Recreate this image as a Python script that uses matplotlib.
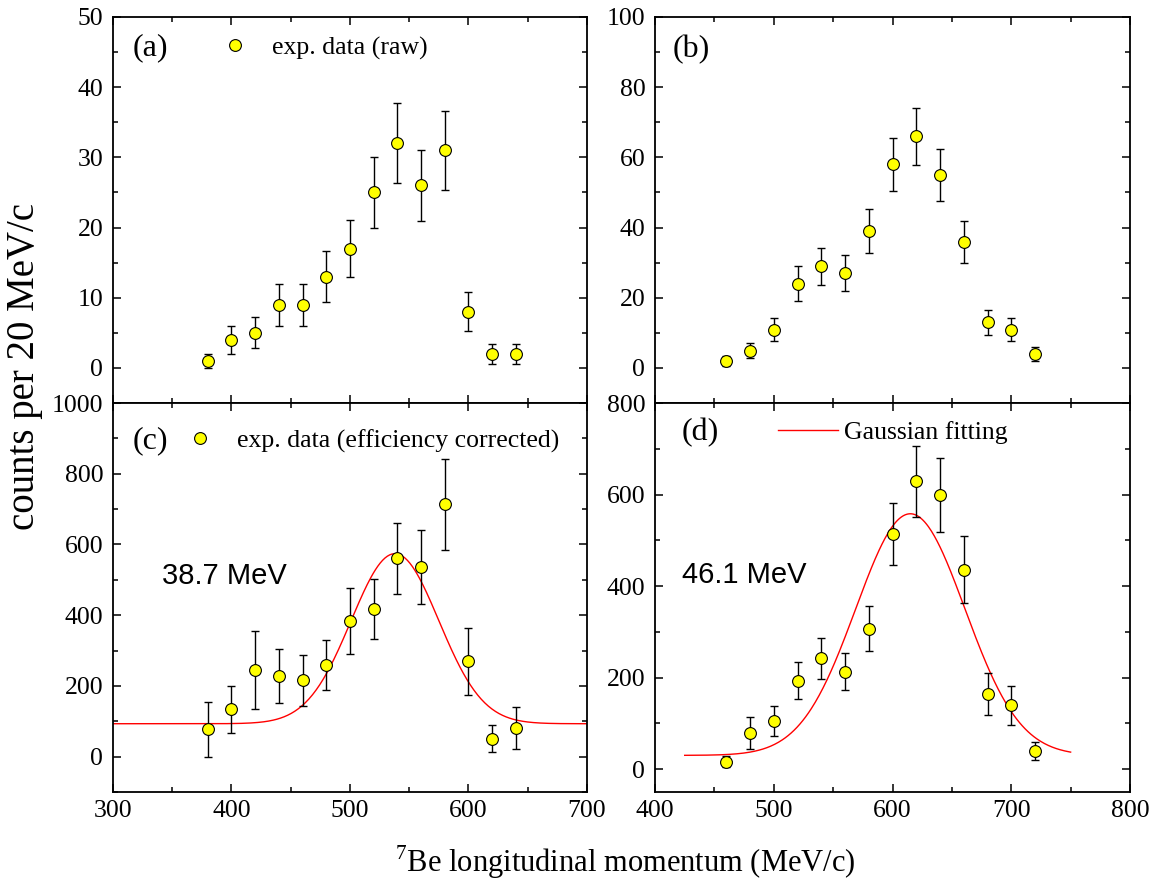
import numpy as np
import matplotlib
matplotlib.use("Agg")
import matplotlib.pyplot as plt
from matplotlib.ticker import MultipleLocator

plt.rcParams["font.family"] = ["Liberation Serif", "DejaVu Serif"]
plt.rcParams["mathtext.fontset"] = "custom"
plt.rcParams["mathtext.rm"] = "Liberation Serif"

# momentum bins (MeV/c)
p_a = [380, 400, 420, 440, 460, 480, 500, 520, 540, 560, 580, 600, 620, 640]
p_b = [460, 480, 500, 520, 540, 560, 580, 600, 620, 640, 660, 680, 700, 720]

# (a) raw counts, 38.7 MeV
raw_a = [1, 4, 5, 9, 9, 13, 17, 25, 32, 26, 31, 8, 2, 2]
raw_a_err = [1.0, 2.0, 2.2, 3.0, 3.0, 3.6, 4.1, 5.0, 5.7, 5.1, 5.6, 2.8, 1.4, 1.4]

# (b) raw counts, 46.1 MeV
raw_b = [2, 4.9, 10.9, 24, 28.9, 27, 39, 58, 66, 55, 36, 13, 10.9, 3.9]
raw_b_err = [1.4, 2.2, 3.3, 4.9, 5.4, 5.2, 6.2, 7.6, 8.1, 7.4, 6.0, 3.6, 3.3, 2.0]

# (c) efficiency corrected, 38.7 MeV
corr_c = [77, 134, 245, 228, 216, 259, 384, 418, 561, 536, 713, 269, 51, 81]
corr_c_err = [78, 67, 110, 77, 72, 72, 94, 84, 100, 105, 128, 96, 37, 59]

# (d) efficiency corrected, 46.1 MeV
corr_d = [16, 79, 105, 193, 242, 213, 307, 514, 629, 599, 436, 164, 139, 39]
corr_d_err = [12, 35, 32, 40, 45, 41, 49, 67, 77, 81, 73, 46, 42, 20]

# gaussian fit parameters: baseline, amplitude, centre, sigma, x range
fit_c = dict(base=93, amp=481, mu=538, sigma=37, x0=300, x1=700)
fit_d = dict(base=30, amp=528, mu=615, sigma=46, x0=425, x1=750)


def gauss_curve(pars):
    x = np.linspace(pars["x0"], pars["x1"], 400)
    y = pars["base"] + pars["amp"] * np.exp(-(x - pars["mu"]) ** 2 / (2 * pars["sigma"] ** 2))
    return x, y


def style(ax, xlim, ylim, ymaj, ymin, show_x):
    ax.set_xlim(*xlim)
    ax.set_ylim(*ylim)
    ax.xaxis.set_major_locator(MultipleLocator(100))
    ax.xaxis.set_minor_locator(MultipleLocator(50))
    ax.yaxis.set_major_locator(MultipleLocator(ymaj))
    ax.yaxis.set_minor_locator(MultipleLocator(ymin))
    ax.tick_params(which="both", direction="in", top=True, right=True,
                   width=1.1, labelsize=18.5)
    ax.tick_params(axis="x", pad=6)
    ax.tick_params(axis="y", pad=7)
    ax.tick_params(which="major", length=6)
    ax.tick_params(which="minor", length=3.5)
    if not show_x:
        ax.tick_params(labelbottom=False)
    for s in ax.spines.values():
        s.set_linewidth(1.3)


def draw_points(ax, x, y, err, label=None):
    ax.errorbar(x, y, yerr=err, fmt="none", ecolor="black", elinewidth=1,
                capsize=3, capthick=1, zorder=2)
    return ax.plot(x, y, "o", ms=8.5, mfc="yellow", mec="black", mew=0.8,
                   label=label, zorder=3)[0]


fig = plt.figure(figsize=(11.54, 8.84), dpi=100)
ax_a = fig.add_axes([0.0979, 0.5441, 0.4107, 0.4367])
ax_b = fig.add_axes([0.5676, 0.5441, 0.4116, 0.4367])
ax_c = fig.add_axes([0.0979, 0.1041, 0.4107, 0.4400])
ax_d = fig.add_axes([0.5676, 0.1041, 0.4116, 0.4400])

style(ax_a, (300, 700), (-5, 50), 10, 5, False)
style(ax_b, (400, 800), (-10, 100), 20, 10, False)
style(ax_c, (300, 700), (-100, 1000), 200, 100, True)
style(ax_d, (400, 800), (-50, 800), 200, 100, True)

h_a = draw_points(ax_a, p_a, raw_a, raw_a_err, "exp. data (raw)")
draw_points(ax_b, p_b, raw_b, raw_b_err)
h_c = draw_points(ax_c, p_a, corr_c, corr_c_err, "exp. data (efficiency corrected)")
draw_points(ax_d, p_b, corr_d, corr_d_err)

xc, yc = gauss_curve(fit_c)
ax_c.plot(xc, yc, color="red", lw=1, zorder=1)
xd, yd = gauss_curve(fit_d)
h_d = ax_d.plot(xd, yd, color="red", lw=1, zorder=1, label="Gaussian fitting")[0]

leg_kw = dict(frameon=False, fontsize=18.5, borderpad=0, borderaxespad=0,
              loc="center left")
ax_a.legend(handles=[h_a], bbox_to_anchor=(0.230, 0.92), handlelength=1.0,
            handletextpad=0.94, **leg_kw)
ax_c.legend(handles=[h_c], bbox_to_anchor=(0.156, 0.902), handlelength=1.0,
            handletextpad=0.94, **leg_kw)
ax_d.legend(handles=[h_d], bbox_to_anchor=(0.259, 0.925), handlelength=2.33,
            handletextpad=0.23, **leg_kw)

for ax, lab, xy in [(ax_a, "(a)", (0.042, 0.92)), (ax_b, "(b)", (0.038, 0.915)),
                    (ax_c, "(c)", (0.042, 0.902)), (ax_d, "(d)", (0.057, 0.923))]:
    ax.text(xy[0], xy[1], lab, transform=ax.transAxes, fontsize=23,
            ha="left", va="center")

ax_c.text(0.103, 0.555, "38.7 MeV", transform=ax_c.transAxes, fontsize=21,
          family="Liberation Sans", ha="left", va="center")
ax_d.text(0.057, 0.558, "46.1 MeV", transform=ax_d.transAxes, fontsize=21,
          family="Liberation Sans", ha="left", va="center")

fig.text(0.021, 0.585, "counts per 20 MeV/c", rotation=90, fontsize=28,
         ha="center", va="center")
fig.text(0.542, 0.025, "$^{7}$Be longitudinal momentum (MeV/c)", fontsize=22,
         ha="center", va="center")

fig.savefig("out.png", dpi=100)
